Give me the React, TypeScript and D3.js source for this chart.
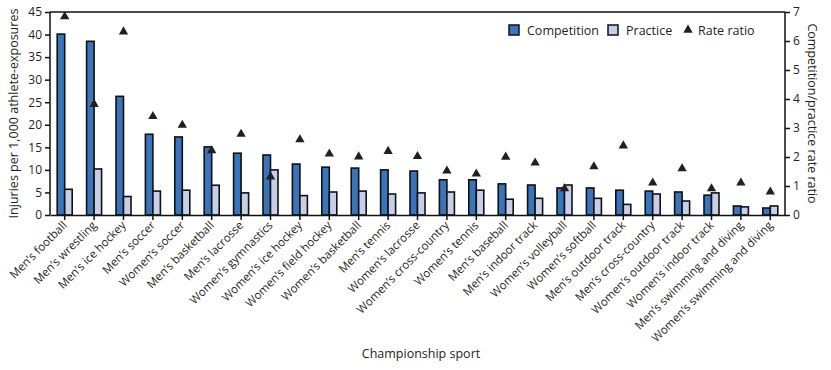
import React, { useEffect, useRef } from "react";
import * as d3 from "d3";

const sports = [
  "Men’s football", "Men’s wrestling", "Men’s ice hockey", "Men’s soccer", "Women’s soccer",
  "Men’s basketball", "Men’s lacrosse", "Women’s gymnastics", "Women’s ice hockey",
  "Women’s field hockey", "Women’s basketball", "Men’s tennis", "Women’s lacrosse",
  "Women’s cross-country", "Women’s tennis", "Men’s baseball", "Men’s indoor track",
  "Women’s volleyball", "Women’s softball", "Men’s outdoor track", "Men’s cross-country",
  "Women’s outdoor track", "Women’s indoor track", "Men’s swimming and diving",
  "Women’s swimming and diving",
];
const competition = [40.1, 38.5, 26.3, 17.9, 17.3, 15.1, 13.7, 13.3, 11.3, 10.6, 10.4, 10.0, 9.75,
  7.8, 7.8, 6.9, 6.65, 6.0, 6.0, 5.5, 5.3, 5.1, 4.4, 2.0, 1.55];
const practice = [5.7, 10.2, 4.1, 5.3, 5.5, 6.6, 4.9, 10.0, 4.3, 5.1, 5.3, 4.65, 4.9,
  5.1, 5.5, 3.5, 3.7, 6.65, 3.7, 2.35, 4.65, 3.1, 4.9, 1.8, 2.0];
const rateRatio = [6.84, 3.82, 6.32, 3.4, 3.1, 2.22, 2.79, 1.32, 2.6, 2.11, 2.01, 2.2, 2.02,
  1.52, 1.42, 2.0, 1.8, 0.91, 1.67, 2.39, 1.11, 1.6, 0.91, 1.11, 0.8];
const leftTicks = [0, 5, 10, 15, 20, 25, 30, 35, 40, 45];
const rightTicks = [0, 1, 2, 3, 4, 5, 6, 7];

const W = 831, H = 370;
const M = { left: 50, right: 785, top: 12, bottom: 215 };
const FONT = "'Open Sans', sans-serif";
const BLUE = "#3a74ba";
const LIGHT = "#c6cfea";

export default function App() {
  const ref = useRef<SVGSVGElement>(null);

  useEffect(() => {
    const svg = d3.select(ref.current);
    svg.selectAll("*").remove();

    const x = d3.scaleBand().domain(sports).range([M.left, M.right]);
    const yL = d3.scaleLinear().domain([0, 45]).range([M.bottom, M.top]);
    const yR = d3.scaleLinear().domain([0, 7]).range([M.bottom, M.top]);
    const bw = 7.5;
    const cx = (s: string) => (x(s) as number) + x.bandwidth() / 2;

    // top border
    svg.append("line").attr("x1", M.left).attr("x2", M.right)
      .attr("y1", M.top).attr("y2", M.top).attr("stroke", "#111").attr("stroke-width", 1.5);

    const g = svg.append("g");
    g.selectAll("rect.comp").data(sports).enter().append("rect")
      .attr("x", (d) => cx(d) - bw).attr("width", bw)
      .attr("y", (d, i) => yL(competition[i])).attr("height", (d, i) => M.bottom - yL(competition[i]))
      .attr("fill", BLUE).attr("stroke", "#111").attr("stroke-width", 1.6);
    g.selectAll("rect.prac").data(sports).enter().append("rect")
      .attr("x", (d) => cx(d)).attr("width", bw)
      .attr("y", (d, i) => yL(practice[i])).attr("height", (d, i) => M.bottom - yL(practice[i]))
      .attr("fill", LIGHT).attr("stroke", "#111").attr("stroke-width", 1.6);

    const tri = d3.symbol().type(d3.symbolTriangle).size(38);
    g.selectAll("path.tri").data(sports).enter().append("path")
      .attr("d", tri)
      .attr("transform", (d, i) => `translate(${cx(d)},${yR(rateRatio[i])})`)
      .attr("fill", "#231f20");

    // left axis
    const la = svg.append("g").attr("transform", `translate(${M.left},0)`)
      .call(d3.axisLeft(yL).tickValues(leftTicks).tickSize(5).tickPadding(3));
    // right axis
    const ra = svg.append("g").attr("transform", `translate(${M.right},0)`)
      .call(d3.axisRight(yR).tickValues(rightTicks).tickFormat(d3.format("d")).tickSize(5).tickPadding(3));
    // bottom axis
    const ba = svg.append("g").attr("transform", `translate(0,${M.bottom})`)
      .call(d3.axisBottom(x).tickSize(5).tickSizeOuter(0).tickFormat(() => ""));
    [la, ra, ba].forEach((a) => {
      a.select(".domain").attr("stroke", "#111").attr("stroke-width", 1.5);
      a.selectAll(".tick line").attr("stroke", "#111").attr("stroke-width", 1.5);
      a.selectAll("text").attr("font-family", FONT).attr("font-size", 12).attr("fill", "#231f20");
    });
    la.select(".domain").attr("d", `M0,${M.top}V${M.bottom}`);
    ra.select(".domain").attr("d", `M0,${M.top}V${M.bottom}`);

    // category labels
    svg.append("g").selectAll("text").data(sports).enter().append("text")
      .attr("transform", (d) => `translate(${cx(d) + 3},${M.bottom + 11}) rotate(-45)`)
      .attr("text-anchor", "end")
      .attr("font-family", FONT).attr("font-size", 11.5).attr("fill", "#231f20")
      .text((d) => d);

    // axis titles
    svg.append("text").attr("transform", `translate(18,${(M.top + M.bottom) / 2}) rotate(-90)`)
      .attr("text-anchor", "middle").attr("font-family", FONT).attr("font-size", 12.5)
      .attr("fill", "#231f20").text("Injuries per 1,000 athlete-exposures");
    svg.append("text").attr("transform", `translate(808,${(M.top + M.bottom) / 2}) rotate(90)`)
      .attr("text-anchor", "middle").attr("font-family", FONT).attr("font-size", 12.5)
      .attr("fill", "#231f20").text("Competition/practice rate ratio");
    svg.append("text").attr("x", 421).attr("y", 358).attr("text-anchor", "middle")
      .attr("font-family", FONT).attr("font-size", 12.5).attr("fill", "#231f20")
      .text("Championship sport");

    // legend
    const lg = svg.append("g").attr("font-family", FONT).attr("font-size", 12.5).attr("fill", "#231f20");
    lg.append("rect").attr("x", 509).attr("y", 25).attr("width", 10).attr("height", 10)
      .attr("fill", BLUE).attr("stroke", "#111").attr("stroke-width", 1.5);
    lg.append("text").attr("x", 527).attr("y", 34.5).text("Competition");
    lg.append("rect").attr("x", 608).attr("y", 25).attr("width", 10).attr("height", 10)
      .attr("fill", LIGHT).attr("stroke", "#111").attr("stroke-width", 1.5);
    lg.append("text").attr("x", 626).attr("y", 34.5).text("Practice");
    lg.append("path").attr("d", tri).attr("transform", "translate(688,30)").attr("fill", "#231f20");
    lg.append("text").attr("x", 698).attr("y", 34.5).text("Rate ratio");
  }, []);

  return <svg ref={ref} width={W} height={H} style={{ display: "block", position: "absolute", left: 0, top: 0 }} />;
}
